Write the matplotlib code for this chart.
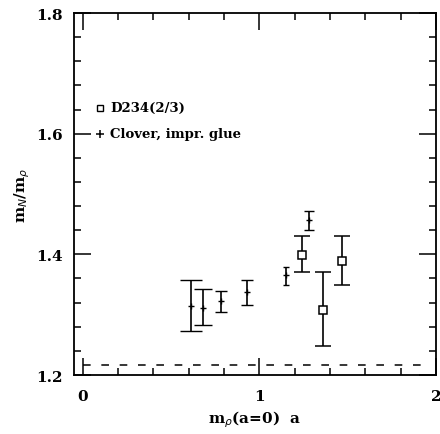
import matplotlib
matplotlib.use("Agg")
import matplotlib.pyplot as plt
from matplotlib.ticker import MultipleLocator

# Clover, improved glue
clover_x = [0.61, 0.68, 0.78, 0.93, 1.15, 1.28]
clover_y = [1.314, 1.311, 1.323, 1.338, 1.365, 1.457]
clover_lo = [1.273, 1.283, 1.304, 1.316, 1.349, 1.440]
clover_hi = [1.358, 1.343, 1.339, 1.358, 1.379, 1.472]

# D234(2/3)
d234_x = [1.24, 1.36, 1.47]
d234_y = [1.399, 1.308, 1.389]
d234_lo = [1.371, 1.248, 1.349]
d234_hi = [1.430, 1.371, 1.430]

ref_y = 1.217
ref_x = [0.0, 1.92]

legend_labels = ["D234(2/3)", "Clover, impr. glue"]
legend_y = [1.643, 1.600]

fig = plt.figure(figsize=(4.4, 4.35), dpi=100)
ax = fig.add_axes([0.168, 0.1356, 0.823, 0.8322])
serif = "DejaVu Serif"

clover_caps = [8, 6.5, 4.5, 4, 2.5, 3.5]
for x, y, lo, hi, cs in zip(clover_x, clover_y, clover_lo, clover_hi, clover_caps):
    ax.errorbar([x], [y], yerr=[[y - lo], [hi - y]], fmt='+', color='black',
                ms=5, mew=1.0, elinewidth=1.2, capsize=cs, capthick=1.2)

for x, y, lo, hi in zip(d234_x, d234_y, d234_lo, d234_hi):
    ax.errorbar([x], [y], yerr=[[y - lo], [hi - y]], fmt='s', color='black',
                mfc='white', ms=6, mew=1.1, elinewidth=1.2, capsize=6, capthick=1.2)

ax.hlines(ref_y, ref_x[0], ref_x[1], colors='black', linestyles=(0, (5, 7)), lw=1.1)

# legend
ax.plot([0.097], [legend_y[0]], 's', color='black', mfc='white', ms=5, mew=1.0)
ax.plot([0.097], [legend_y[1]], '+', color='black', ms=6, mew=1.1)
for yy, lab in zip(legend_y, legend_labels):
    ax.text(0.155, yy, lab, fontsize=9.5, fontweight='bold', family=serif,
            va='center', ha='left')

ax.set_xlim(-0.05, 2.0)
ax.set_ylim(1.2, 1.8)
ax.xaxis.set_major_locator(MultipleLocator(1))
ax.xaxis.set_minor_locator(MultipleLocator(0.2))
ax.yaxis.set_major_locator(MultipleLocator(0.2))
ax.yaxis.set_minor_locator(MultipleLocator(0.04))
ax.tick_params(which='both', direction='in', top=True, right=True, width=1.1)
ax.tick_params(which='major', length=12)
ax.tick_params(which='minor', length=5)
ax.tick_params(axis='x', which='major', pad=10)
ax.tick_params(axis='y', which='major', pad=8)
for lab in ax.get_xticklabels() + ax.get_yticklabels():
    lab.set_family(serif)
    lab.set_fontsize(11)
    lab.set_fontweight('bold')
ax.yaxis.set_major_formatter(plt.FuncFormatter(lambda v, p: f"{v:.1f}"))
ax.xaxis.set_major_formatter(plt.FuncFormatter(lambda v, p: f"{v:.0f}"))
for s in ax.spines.values():
    s.set_linewidth(1.3)

ax.set_xlabel(r"m$_\rho$(a=0)  a", fontsize=11, family=serif, fontweight='bold', labelpad=4)
ax.set_ylabel(r"m$_N$/m$_\rho$", fontsize=11, family=serif, fontweight='bold', labelpad=3)

fig.savefig("out.png", dpi=100)
